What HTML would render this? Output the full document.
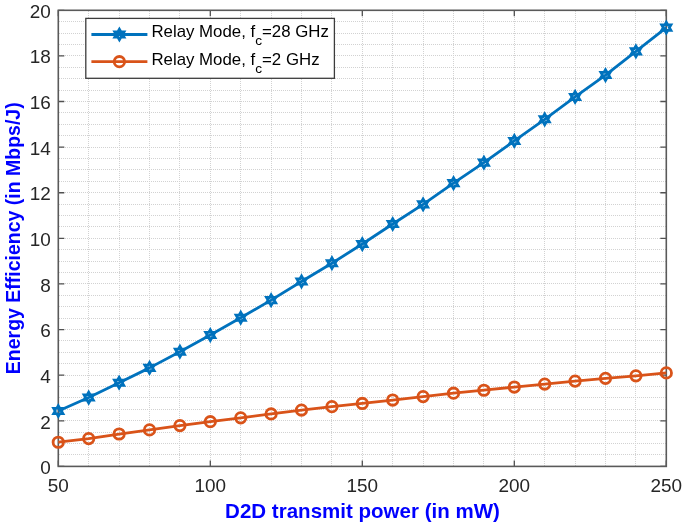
<!DOCTYPE html>
<html><head><meta charset="utf-8"><style>
html,body{margin:0;padding:0;background:#fff;}
body{width:685px;height:526px;position:relative;overflow:hidden;font-family:"Liberation Sans",sans-serif;}
</style></head><body>
<svg width="685" height="526" viewBox="0 0 685 526" style="position:absolute;left:0;top:0;will-change:transform;filter:blur(0.35px)">
<rect width="685" height="526" fill="#fff"/>
<path d="M88.50 11V466.40M119.50 11V466.40M149.50 11V466.40M179.50 11V466.40M210.50 11V466.40M240.50 11V466.40M271.50 11V466.40M301.50 11V466.40M331.50 11V466.40M362.50 11V466.40M392.50 11V466.40M423.50 11V466.40M453.50 11V466.40M483.50 11V466.40M514.50 11V466.40M544.50 11V466.40M575.50 11V466.40M605.50 11V466.40M635.50 11V466.40M59 454.50H666.30M59 443.50H666.30M59 432.50H666.30M59 420.50H666.30M59 409.50H666.30M59 397.50H666.30M59 386.50H666.30M59 375.50H666.30M59 363.50H666.30M59 352.50H666.30M59 340.50H666.30M59 329.50H666.30M59 318.50H666.30M59 306.50H666.30M59 295.50H666.30M59 283.50H666.30M59 272.50H666.30M59 261.50H666.30M59 249.50H666.30M59 238.50H666.30M59 226.50H666.30M59 215.50H666.30M59 204.50H666.30M59 192.50H666.30M59 181.50H666.30M59 169.50H666.30M59 158.50H666.30M59 147.50H666.30M59 135.50H666.30M59 124.50H666.30M59 112.50H666.30M59 101.50H666.30M59 90.50H666.30M59 78.50H666.30M59 67.50H666.30M59 55.50H666.30M59 44.50H666.30M59 33.50H666.30M59 21.50H666.30" stroke="#d2d2d2" stroke-width="1" stroke-dasharray="1 1" fill="none"/>
<path d="M58.30 466.40v-6M58.30 10.30v6M210.30 466.40v-6M210.30 10.30v6M362.30 466.40v-6M362.30 10.30v6M514.30 466.40v-6M514.30 10.30v6M666.30 466.40v-6M666.30 10.30v6M58.30 466.40h6M666.30 466.40h-6M58.30 420.79h6M666.30 420.79h-6M58.30 375.18h6M666.30 375.18h-6M58.30 329.57h6M666.30 329.57h-6M58.30 283.96h6M666.30 283.96h-6M58.30 238.35h6M666.30 238.35h-6M58.30 192.74h6M666.30 192.74h-6M58.30 147.13h6M666.30 147.13h-6M58.30 101.52h6M666.30 101.52h-6M58.30 55.91h6M666.30 55.91h-6M58.30 10.30h6M666.30 10.30h-6" stroke="#505050" stroke-width="1.3" fill="none"/>
<rect x="58.30" y="10.30" width="608.00" height="456.10" stroke="#5a5a5a" stroke-width="1.6" fill="none"/>
<path d="M58.30 410.98L88.70 397.53L119.10 382.71L149.50 367.88L179.90 351.69L210.30 335.04L240.70 317.71L271.10 300.15L301.50 281.45L331.90 263.21L362.30 244.05L392.70 223.98L423.10 204.37L453.50 183.16L483.90 162.64L514.30 140.97L544.70 119.31L575.10 96.96L605.50 75.07L635.90 51.35L666.30 27.63" stroke="#0072BD" stroke-width="2.8" fill="none" stroke-linejoin="round"/>
<path d="M58.30 405.68L56.77 408.33L53.71 408.33L55.24 410.98L53.71 413.63L56.77 413.63L58.30 416.28L59.83 413.63L62.89 413.63L61.36 410.98L62.89 408.33L59.83 408.33ZM88.70 392.23L87.17 394.88L84.11 394.88L85.64 397.53L84.11 400.18L87.17 400.18L88.70 402.83L90.23 400.18L93.29 400.18L91.76 397.53L93.29 394.88L90.23 394.88ZM119.10 377.41L117.57 380.06L114.51 380.06L116.04 382.71L114.51 385.36L117.57 385.36L119.10 388.01L120.63 385.36L123.69 385.36L122.16 382.71L123.69 380.06L120.63 380.06ZM149.50 362.58L147.97 365.23L144.91 365.23L146.44 367.88L144.91 370.53L147.97 370.53L149.50 373.18L151.03 370.53L154.09 370.53L152.56 367.88L154.09 365.23L151.03 365.23ZM179.90 346.39L178.37 349.04L175.31 349.04L176.84 351.69L175.31 354.34L178.37 354.34L179.90 356.99L181.43 354.34L184.49 354.34L182.96 351.69L184.49 349.04L181.43 349.04ZM210.30 329.74L208.77 332.39L205.71 332.39L207.24 335.04L205.71 337.69L208.77 337.69L210.30 340.34L211.83 337.69L214.89 337.69L213.36 335.04L214.89 332.39L211.83 332.39ZM240.70 312.41L239.17 315.06L236.11 315.06L237.64 317.71L236.11 320.36L239.17 320.36L240.70 323.01L242.23 320.36L245.29 320.36L243.76 317.71L245.29 315.06L242.23 315.06ZM271.10 294.85L269.57 297.50L266.51 297.50L268.04 300.15L266.51 302.80L269.57 302.80L271.10 305.45L272.63 302.80L275.69 302.80L274.16 300.15L275.69 297.50L272.63 297.50ZM301.50 276.15L299.97 278.80L296.91 278.80L298.44 281.45L296.91 284.10L299.97 284.10L301.50 286.75L303.03 284.10L306.09 284.10L304.56 281.45L306.09 278.80L303.03 278.80ZM331.90 257.91L330.37 260.56L327.31 260.56L328.84 263.21L327.31 265.86L330.37 265.86L331.90 268.51L333.43 265.86L336.49 265.86L334.96 263.21L336.49 260.56L333.43 260.56ZM362.30 238.75L360.77 241.40L357.71 241.40L359.24 244.05L357.71 246.70L360.77 246.70L362.30 249.35L363.83 246.70L366.89 246.70L365.36 244.05L366.89 241.40L363.83 241.40ZM392.70 218.68L391.17 221.33L388.11 221.33L389.64 223.98L388.11 226.63L391.17 226.63L392.70 229.28L394.23 226.63L397.29 226.63L395.76 223.98L397.29 221.33L394.23 221.33ZM423.10 199.07L421.57 201.72L418.51 201.72L420.04 204.37L418.51 207.02L421.57 207.02L423.10 209.67L424.63 207.02L427.69 207.02L426.16 204.37L427.69 201.72L424.63 201.72ZM453.50 177.86L451.97 180.51L448.91 180.51L450.44 183.16L448.91 185.81L451.97 185.81L453.50 188.46L455.03 185.81L458.09 185.81L456.56 183.16L458.09 180.51L455.03 180.51ZM483.90 157.34L482.37 159.99L479.31 159.99L480.84 162.64L479.31 165.29L482.37 165.29L483.90 167.94L485.43 165.29L488.49 165.29L486.96 162.64L488.49 159.99L485.43 159.99ZM514.30 135.67L512.77 138.32L509.71 138.32L511.24 140.97L509.71 143.62L512.77 143.62L514.30 146.27L515.83 143.62L518.89 143.62L517.36 140.97L518.89 138.32L515.83 138.32ZM544.70 114.01L543.17 116.66L540.11 116.66L541.64 119.31L540.11 121.96L543.17 121.96L544.70 124.61L546.23 121.96L549.29 121.96L547.76 119.31L549.29 116.66L546.23 116.66ZM575.10 91.66L573.57 94.31L570.51 94.31L572.04 96.96L570.51 99.61L573.57 99.61L575.10 102.26L576.63 99.61L579.69 99.61L578.16 96.96L579.69 94.31L576.63 94.31ZM605.50 69.77L603.97 72.42L600.91 72.42L602.44 75.07L600.91 77.72L603.97 77.72L605.50 80.37L607.03 77.72L610.09 77.72L608.56 75.07L610.09 72.42L607.03 72.42ZM635.90 46.05L634.37 48.70L631.31 48.70L632.84 51.35L631.31 54.00L634.37 54.00L635.90 56.65L637.43 54.00L640.49 54.00L638.96 51.35L640.49 48.70L637.43 48.70ZM666.30 22.33L664.77 24.98L661.71 24.98L663.24 27.63L661.71 30.28L664.77 30.28L666.30 32.93L667.83 30.28L670.89 30.28L669.36 27.63L670.89 24.98L667.83 24.98Z" stroke="#0072BD" stroke-width="2.8" fill="none" stroke-linejoin="miter"/>
<path d="M58.30 442.23L88.70 438.58L119.10 434.02L149.50 429.91L179.90 425.58L210.30 421.70L240.70 417.83L271.10 413.95L301.50 410.07L331.90 406.65L362.30 403.46L392.70 400.04L423.10 396.62L453.50 393.20L483.90 390.23L514.30 387.04L544.70 384.07L575.10 381.11L605.50 378.37L635.90 375.86L666.30 372.90" stroke="#D95319" stroke-width="2.8" fill="none" stroke-linejoin="round"/>
<circle cx="58.30" cy="442.23" r="5.2" stroke="#D95319" stroke-width="2.8" fill="none"/>
<circle cx="88.70" cy="438.58" r="5.2" stroke="#D95319" stroke-width="2.8" fill="none"/>
<circle cx="119.10" cy="434.02" r="5.2" stroke="#D95319" stroke-width="2.8" fill="none"/>
<circle cx="149.50" cy="429.91" r="5.2" stroke="#D95319" stroke-width="2.8" fill="none"/>
<circle cx="179.90" cy="425.58" r="5.2" stroke="#D95319" stroke-width="2.8" fill="none"/>
<circle cx="210.30" cy="421.70" r="5.2" stroke="#D95319" stroke-width="2.8" fill="none"/>
<circle cx="240.70" cy="417.83" r="5.2" stroke="#D95319" stroke-width="2.8" fill="none"/>
<circle cx="271.10" cy="413.95" r="5.2" stroke="#D95319" stroke-width="2.8" fill="none"/>
<circle cx="301.50" cy="410.07" r="5.2" stroke="#D95319" stroke-width="2.8" fill="none"/>
<circle cx="331.90" cy="406.65" r="5.2" stroke="#D95319" stroke-width="2.8" fill="none"/>
<circle cx="362.30" cy="403.46" r="5.2" stroke="#D95319" stroke-width="2.8" fill="none"/>
<circle cx="392.70" cy="400.04" r="5.2" stroke="#D95319" stroke-width="2.8" fill="none"/>
<circle cx="423.10" cy="396.62" r="5.2" stroke="#D95319" stroke-width="2.8" fill="none"/>
<circle cx="453.50" cy="393.20" r="5.2" stroke="#D95319" stroke-width="2.8" fill="none"/>
<circle cx="483.90" cy="390.23" r="5.2" stroke="#D95319" stroke-width="2.8" fill="none"/>
<circle cx="514.30" cy="387.04" r="5.2" stroke="#D95319" stroke-width="2.8" fill="none"/>
<circle cx="544.70" cy="384.07" r="5.2" stroke="#D95319" stroke-width="2.8" fill="none"/>
<circle cx="575.10" cy="381.11" r="5.2" stroke="#D95319" stroke-width="2.8" fill="none"/>
<circle cx="605.50" cy="378.37" r="5.2" stroke="#D95319" stroke-width="2.8" fill="none"/>
<circle cx="635.90" cy="375.86" r="5.2" stroke="#D95319" stroke-width="2.8" fill="none"/>
<circle cx="666.30" cy="372.90" r="5.2" stroke="#D95319" stroke-width="2.8" fill="none"/>
<g font-family="Liberation Sans, sans-serif" font-size="18" fill="#262626">
<text transform="translate(50.90 474.40) scale(1.053 1)" text-anchor="end">0</text>
<text transform="translate(50.90 428.71) scale(1.053 1)" text-anchor="end">2</text>
<text transform="translate(50.90 383.02) scale(1.053 1)" text-anchor="end">4</text>
<text transform="translate(50.90 337.33) scale(1.053 1)" text-anchor="end">6</text>
<text transform="translate(50.90 291.64) scale(1.053 1)" text-anchor="end">8</text>
<text transform="translate(50.90 245.95) scale(1.053 1)" text-anchor="end">10</text>
<text transform="translate(50.90 200.26) scale(1.053 1)" text-anchor="end">12</text>
<text transform="translate(50.90 154.57) scale(1.053 1)" text-anchor="end">14</text>
<text transform="translate(50.90 108.88) scale(1.053 1)" text-anchor="end">16</text>
<text transform="translate(50.90 63.19) scale(1.053 1)" text-anchor="end">18</text>
<text transform="translate(50.90 17.50) scale(1.053 1)" text-anchor="end">20</text>
<text transform="translate(58.30 492.4) scale(1.053 1)" text-anchor="middle">50</text>
<text transform="translate(210.30 492.4) scale(1.053 1)" text-anchor="middle">100</text>
<text transform="translate(362.30 492.4) scale(1.053 1)" text-anchor="middle">150</text>
<text transform="translate(514.30 492.4) scale(1.053 1)" text-anchor="middle">200</text>
<text transform="translate(666.30 492.4) scale(1.053 1)" text-anchor="middle">250</text>
</g>
<text transform="translate(362.5 517.8) scale(1.053 1)" text-anchor="middle" font-family="Liberation Sans, sans-serif" font-weight="bold" font-size="19.5" fill="#0000FF">D2D transmit power (in mW)</text>
<text transform="translate(19.6 238.25) scale(1.053 1) rotate(-90)" text-anchor="middle" font-family="Liberation Sans, sans-serif" font-weight="bold" font-size="19.5" fill="#0000FF">Energy Efficiency (in Mbps/J)</text>
<rect x="85.8" y="18.4" width="248.60" height="59.90" fill="#fff" stroke="#3c3c3c" stroke-width="1.3"/>
<path d="M91.4 34.5H147.4" stroke="#0072BD" stroke-width="2.8"/>
<path d="M119.40 29.20L117.87 31.85L114.81 31.85L116.34 34.50L114.81 37.15L117.87 37.15L119.40 39.80L120.93 37.15L123.99 37.15L122.46 34.50L123.99 31.85L120.93 31.85Z" stroke="#0072BD" stroke-width="2.8" fill="none"/>
<path d="M91.4 61.7H147.4" stroke="#D95319" stroke-width="2.8"/>
<circle cx="119.4" cy="61.7" r="5.2" stroke="#D95319" stroke-width="2.8" fill="none"/>
<g font-family="Liberation Sans, sans-serif" font-size="16" fill="#000">
<text transform="translate(151.4 37) scale(1.053 1)">Relay Mode, f<tspan font-size="13" dy="8">c</tspan><tspan dy="-8">=28 GHz</tspan></text>
<text transform="translate(151.4 64.6) scale(1.053 1)">Relay Mode, f<tspan font-size="13" dy="8">c</tspan><tspan dy="-8">=2 GHz</tspan></text>
</g>
</svg>
</body></html>
